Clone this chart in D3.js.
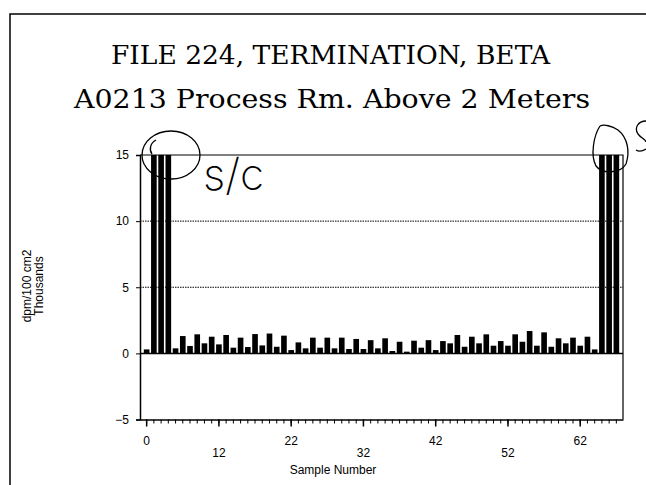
<!DOCTYPE html>
<html><head><meta charset="utf-8">
<script src="https://cdn.jsdelivr.net/npm/d3@7"></script>
<style>body{margin:0;background:#fff}</style>
</head><body>
<svg id="c" width="646" height="485"></svg>
<script>
// ---------- data ----------
const titleLine1 = "FILE 224, TERMINATION, BETA";
const titleLine2 = "A0213 Process Rm. Above 2 Meters";
const xTitle = "Sample Number";
const yTitle1 = "dpm/100 cm2";
const yTitle2 = "Thousands";

// sample numbers (one bar each)
const samples = [0,1,2,3,4,5,6,7,8,9,
  12,13,14,15,16,17,18,19,20,21,
  22,23,24,25,26,27,28,29,30,31,
  32,33,34,35,36,37,38,39,40,41,
  42,43,44,45,46,47,48,49,50,51,
  52,53,54,55,56,57,58,59,60,61,
  62,63,64,65,66,67];
// values in thousands dpm/100 cm2 (bars above 15 run off scale)
const values = [0.30, 24, 26, 25, 0.38, 1.31, 0.56, 1.44, 0.76, 1.26,
  0.68, 1.39, 0.43, 1.19, 0.48, 1.46, 0.60, 1.50, 0.50, 1.34,
  0.25, 0.83, 0.38, 1.19, 0.43, 1.19, 0.38, 1.19, 0.33, 1.09,
  0.33, 1.00, 0.38, 1.14, 0.18, 0.88, 0.13, 0.96, 0.43, 1.00,
  0.25, 0.93, 0.76, 1.39, 0.50, 1.26, 0.76, 1.44, 0.58, 0.93,
  0.58, 1.44, 0.88, 1.69, 0.58, 1.59, 0.50, 1.14, 0.76, 1.19,
  0.58, 1.26, 0.30, 25, 24, 26];
const xTickLabels = [0, 12, 22, 32, 42, 52, 62];
const yTicks = [-5, 0, 5, 10, 15];
const gridValues = [5, 10];

// ---------- layout ----------
const svg = d3.select("#c");
const L = 140, R = 623, T = 155, B = 419.5;
const font = "'Liberation Sans', Arial, sans-serif";
const serif = "'DejaVu Serif', 'Liberation Serif', serif";

const x = d3.scaleBand().domain(samples).range([L, R]).paddingInner(0.22).paddingOuter(0.53);
const y = d3.scaleLinear().domain([-5, 15]).range([B, T]);

// page border (scan frame)
svg.append("path").attr("d", "M10,485V14H646").attr("fill", "none").attr("stroke", "#000").attr("stroke-width", 1.5);

// titles
svg.append("text").attr("x", 111).attr("y", 64)
  .attr("font-family", serif).attr("font-size", 26)
  .attr("textLength", 439).attr("lengthAdjust", "spacingAndGlyphs").text(titleLine1);
svg.append("text").attr("x", 74).attr("y", 108)
  .attr("font-family", serif).attr("font-size", 26)
  .attr("textLength", 516).attr("lengthAdjust", "spacingAndGlyphs").text(titleLine2);

// gridlines
svg.append("g").selectAll("line").data(gridValues).join("line")
  .attr("x1", L).attr("x2", R).attr("y1", d => y(d)).attr("y2", d => y(d))
  .attr("stroke", "#000").attr("stroke-width", 1).attr("stroke-dasharray", "1.5,1");

// bars
svg.append("defs").append("clipPath").attr("id", "clip")
  .append("rect").attr("x", L).attr("y", T).attr("width", R - L).attr("height", B - T);
svg.append("g").attr("clip-path", "url(#clip)").selectAll("rect").data(samples).join("rect")
  .attr("x", d => x(d)).attr("width", x.bandwidth())
  .attr("y", (d, i) => y(values[i])).attr("height", (d, i) => y(0) - y(values[i]))
  .attr("fill", "#000");

// zero line
svg.append("line").attr("x1", L).attr("x2", R).attr("y1", y(0)).attr("y2", y(0))
  .attr("stroke", "#000").attr("stroke-width", 1.5);

// frame: top, right
svg.append("path").attr("d", `M${L},${T}H${R}V${B}`).attr("fill", "none").attr("stroke", "#000").attr("stroke-width", 1.2);

// y axis
const yAxis = svg.append("g").attr("transform", `translate(${L},0)`)
  .call(d3.axisLeft(y).tickValues(yTicks).tickSize(4).tickPadding(7));
yAxis.select(".domain").attr("stroke-width", 1.5);
yAxis.selectAll("text").attr("font-family", font).attr("font-size", 12);

// x axis: minor ticks at every sample
const xAxis = svg.append("g").attr("transform", `translate(0,${B})`)
  .call(d3.axisBottom(x).tickSize(4).tickSizeOuter(0).tickFormat(""));
xAxis.select(".domain").attr("stroke-width", 1.5);
// major ticks + staggered labels
const major = svg.append("g").selectAll("g").data(xTickLabels).join("g")
  .attr("transform", d => `translate(${x(d) + x.bandwidth() / 2},${B})`);
major.append("line").attr("y2", 7).attr("stroke", "#000").attr("stroke-width", 1.5);
major.append("text").attr("text-anchor", "middle")
  .attr("y", (d, i) => i % 2 === 0 ? 25 : 37)
  .attr("font-family", font).attr("font-size", 12).text(d => d);

// axis titles
svg.append("text").attr("x", 333).attr("y", 474).attr("text-anchor", "middle")
  .attr("font-family", font).attr("font-size", 12).text(xTitle);
svg.append("text").attr("transform", "translate(31,286) rotate(-90)").attr("text-anchor", "middle")
  .attr("font-family", font).attr("font-size", 12).text(yTitle1);
svg.append("text").attr("transform", "translate(43,286) rotate(-90)").attr("text-anchor", "middle")
  .attr("font-family", font).attr("font-size", 12).text(yTitle2);

// handwritten annotations
const ann = svg.append("g").attr("fill", "none").attr("stroke", "#000").attr("stroke-width", 1.3);
ann.append("ellipse").attr("cx", 171).attr("cy", 155).attr("rx", 29).attr("ry", 24);
ann.append("path").attr("d", "M156,140 C150,143 149,150 152,154");
ann.append("path").attr("d", "M600,126 C594,135 590,155 596,166 C602,174 620,174 626,164 C630,152 628,138 618,130 C612,126 604,124 600,126");
ann.append("path").attr("d", "M646,121 C638,121 634,128 638,134 C641,138 646,140 646,142");
ann.append("path").attr("d", "M636,150 C639,152 643,151 646,149");
svg.append("text").attr("x", 203).attr("y", 190).attr("font-family", "Inter, 'DejaVu Sans', sans-serif")
  .attr("font-weight", 200).attr("font-size", 44).text("s/c");
</script>
</body></html>
